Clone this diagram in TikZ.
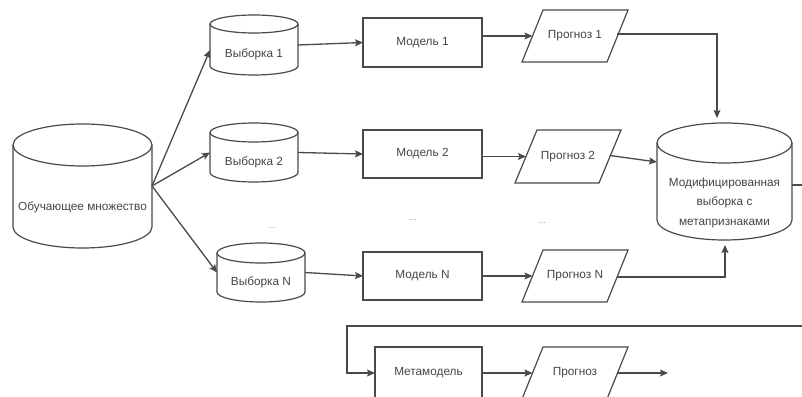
\documentclass[tikz,border=0pt]{standalone}
\usepackage{fontspec}
\setmainfont{Liberation Sans}
\usetikzlibrary{arrows.meta,calc}
\definecolor{ln}{HTML}{4A4A4A}
\definecolor{tx}{HTML}{454545}
\tikzset{
  shapeline/.style={draw=ln, line width=1.2pt},
  conn/.style={draw=ln, line width=1.3pt},
  arr/.style={conn, -{Stealth[length=8pt,width=7pt,inset=1.5pt]}},
  txt/.style={text=tx, font=\fontsize{11.8}{19.5}\selectfont, align=center},
  box/.style={shapeline, txt, inner sep=0pt, outer sep=0pt},
  ghost/.style={inner sep=0pt, outer sep=0pt, draw=none},
  dots/.style={text=gray!80, font=\fontsize{9}{9}\selectfont, inner sep=0pt}
}
\newcommand\dbcyl[3]{%
  \draw[shapeline] ([yshift=-#3]#1.north west) -- ([yshift=#3]#1.south west)
    arc[start angle=180,end angle=360,x radius=#2,y radius=#3]
    -- ([yshift=-#3]#1.north east);
  \draw[shapeline] ([yshift=-#3]#1.north) ellipse[x radius=#2,y radius=#3];
}
\newcommand\parashape[2]{%
  \draw[shapeline] ([xshift=#2]#1.north west) -- (#1.north east)
    -- ([xshift=-#2]#1.south east) -- (#1.south west) -- cycle;
}
\begin{document}
\begin{tikzpicture}[x=1pt,y=1pt]
\useasboundingbox (0,0) rectangle (802,396);
\fill[white] (0,0) rectangle (802,396);

% cylinders
\node[ghost, minimum width=139pt, minimum height=124pt,
  label={[txt,yshift=-21pt]center:Обучающее множество}] (train) at (82.5,210) {};
\dbcyl{train}{69.5pt}{21pt}

\node[ghost, minimum width=88pt, minimum height=60pt,
  label={[txt,yshift=-9pt]center:Выборка 1}] (s1) at (254,351) {};
\dbcyl{s1}{44pt}{9pt}
\node[ghost, minimum width=88pt, minimum height=59pt,
  label={[txt,yshift=-9.5pt]center:Выборка 2}] (s2) at (254,243.5) {};
\dbcyl{s2}{44pt}{9.5pt}
\node[ghost, minimum width=88pt, minimum height=59pt,
  label={[txt,yshift=-10pt]center:Выборка N}] (sN) at (261,123.5) {};
\dbcyl{sN}{44pt}{10pt}

\node[ghost, minimum width=135pt, minimum height=117pt,
  label={[txt,yshift=-21pt]center:Модифицированная\\выборка с\\метапризнаками}] (M) at (724.5,214.5) {};
\dbcyl{M}{67.5pt}{20pt}

% models
\node[box, minimum width=119pt, minimum height=49pt] (m1) at (422.5,353.5) {Модель 1};
\node[box, minimum width=119pt, minimum height=48pt] (m2) at (422.5,242) {Модель 2};
\node[box, minimum width=119pt, minimum height=48pt] (mN) at (422.5,120) {Модель N};
\node[box, minimum width=107pt, minimum height=52pt] (meta) at (428.5,23) {Метамодель};

% forecasts
\node[ghost, txt, minimum width=106pt, minimum height=52pt] (p1) at (575,360) {Прогноз 1};
\parashape{p1}{21pt}
\node[ghost, txt, minimum width=106pt, minimum height=53pt] (p2) at (568,239.5) {Прогноз 2};
\parashape{p2}{22pt}
\node[ghost, txt, minimum width=106pt, minimum height=52pt] (pN) at (575,120) {Прогноз N};
\parashape{pN}{21pt}
\node[ghost, txt, minimum width=106pt, minimum height=52pt] (pf) at (575,23) {Прогноз};
\parashape{pf}{21pt}

% dots
\node[dots] (d1) at (272,168) {...};
\node[dots] (d2) at (413,176) {...};
\node[dots] (d3) at (542,173) {...};

% connectors
\draw[arr] (train.east) -- ([yshift=-5pt]s1.west);
\draw[arr] (train.east) -- (s2.west);
\draw[arr] (train.east) -- (sN.west);

\draw[arr] (s1.east) -- (m1.west);
\draw[arr] (s2.east) -- (m2.west);
\draw[arr] (sN.east) -- (mN.west);

\draw[arr] (m1.east |- p1.center) -- ([xshift=10.5pt]p1.west);
\draw[arr] (m2.east |- p2.center) -- ([xshift=11pt]p2.west);
\draw[arr] (mN.east |- pN.center) -- ([xshift=10.5pt]pN.west);

\draw[arr, shorten >=5pt] ([xshift=-11pt,yshift=2pt]p1.east) -| ([xshift=-7.5pt]M.north);
\draw[arr] ([xshift=-11pt,yshift=1pt]p2.east) -- ([yshift=19.5pt]M.west);
\draw[arr, shorten >=5pt] ([xshift=-11pt,yshift=-1pt]pN.east) -| ([xshift=0.5pt]M.south);

\coordinate (mout) at (830,211);
\coordinate (wrapin) at (830,70);
\draw[conn] ([yshift=-3.5pt]M.east) -- (mout);
\draw[arr] (wrapin) -- (347,70) |- (meta.west);

\draw[arr] (meta.east) -- ([xshift=10.5pt]pf.west);
\coordinate (fend) at (668,23);
\draw[arr] ([xshift=-11pt]pf.east) -- (fend);
\end{tikzpicture}
\end{document}
